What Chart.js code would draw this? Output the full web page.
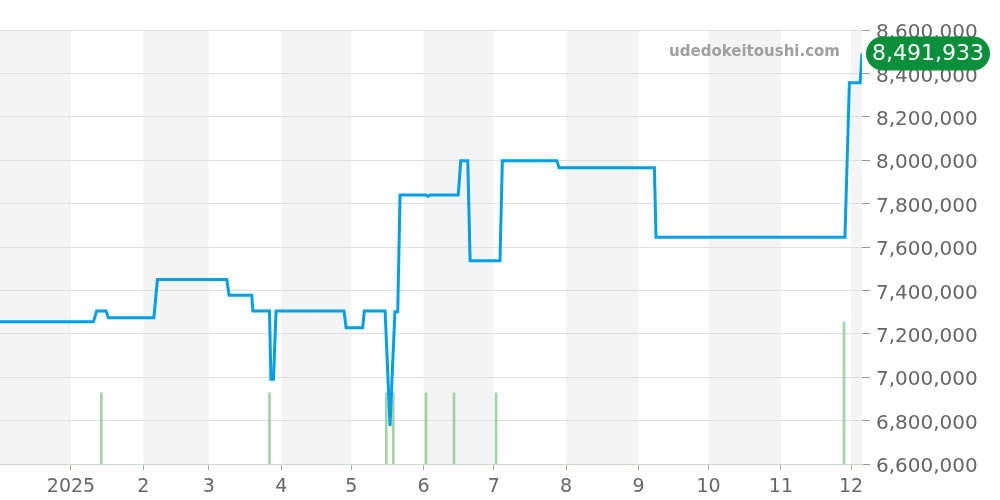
<!DOCTYPE html>
<html>
<head>
<meta charset="utf-8">
<script src="https://cdn.jsdelivr.net/npm/chart.js@4/dist/chart.umd.min.js"></script>
<style>
  html, body { margin: 0; padding: 0; background: #fff; }
  #wrap { width: 1000px; height: 500px; }
</style>
</head>
<body>
<div id="wrap"><canvas id="c" width="1000" height="500"></canvas></div>
<script>
// ---- data (x = days since 2025-01-01) ----
const priceDays = [-30.4, 9.6, 11.0, 15.0, 16.0, 35.5, 37.0, 66.7, 67.7, 77.4, 77.9, 85.0, 85.6, 86.7, 87.8, 116.9, 117.8, 124.9, 125.6, 134.5, 136.6, 138.7, 139.9, 140.9, 152.0, 152.9, 153.7, 165.8, 166.9, 169.9, 170.9, 183.7, 184.7, 208.0, 209.0, 249.8, 250.5, 331.4, 333.3, 337.9, 338.7];
const priceValues = [7255000, 7255000, 7305000, 7305000, 7274000, 7274000, 7450000, 7450000, 7378000, 7378000, 7305000, 7305000, 6990000, 6990000, 7305000, 7305000, 7228000, 7228000, 7305000, 7305000, 6775000, 7302000, 7302000, 7840000, 7840000, 7833000, 7840000, 7840000, 7998000, 7998000, 7537000, 7537000, 7998000, 7998000, 7965000, 7965000, 7645000, 7645000, 8357000, 8357000, 8491933];
const volumeDays = [13, 85, 135, 138, 152, 164, 182, 331];
const volumeValues = [1, 1, 1, 1, 1, 1, 1, 2];
const monthStarts = [0, 31, 59, 90, 120, 151, 181, 212, 243, 273, 304, 334];
const monthLabels = ['2025', '2', '3', '4', '5', '6', '7', '8', '9', '10', '11', '12'];
const shadedMonths = [[-31, 0], [31, 59], [90, 120], [151, 181], [212, 243], [273, 304], [334, 365]];
const yTicks = [6600000, 6800000, 7000000, 7200000, 7400000, 7600000, 7800000, 8000000, 8200000, 8400000, 8600000];
const latestPrice = 8491933;
const siteName = 'udedokeitoushi.com';

const FONT = "'DejaVu Sans', sans-serif";

const bandsPlugin = {
  id: 'bands',
  beforeDraw(chart) {
    const { ctx, chartArea: a, scales: { x } } = chart;
    ctx.save();
    ctx.beginPath();
    ctx.rect(a.left, a.top, a.right - a.left, a.bottom - a.top);
    ctx.clip();
    ctx.fillStyle = '#f4f4f4';
    shadedMonths.forEach(([s, e]) => {
      const x0 = x.getPixelForValue(s), x1 = x.getPixelForValue(e);
      ctx.fillRect(x0, a.top, x1 - x0, a.bottom - a.top);
    });
    ctx.restore();
  }
};

const overlayPlugin = {
  id: 'overlay',
  afterDraw(chart) {
    const { ctx, chartArea: a, scales: { y } } = chart;
    ctx.save();
    // watermark
    ctx.font = "bold 15px " + FONT;
    ctx.fillStyle = '#a0a0a0';
    ctx.textAlign = 'right';
    ctx.textBaseline = 'middle';
    ctx.fillText(siteName, a.right - 22, 52);
    // latest price badge
    const py = y.getPixelForValue(latestPrice);
    const bx = a.right + 4, bw = 124, bh = 34, r = 17;
    ctx.fillStyle = '#0b8f3a';
    ctx.beginPath();
    ctx.roundRect(bx, py - bh / 2, bw, bh, r);
    ctx.fill();
    ctx.fillStyle = '#ffffff';
    ctx.font = "22px " + FONT;
    ctx.textAlign = 'center';
    ctx.fillText(latestPrice.toLocaleString('en-US'), bx + bw / 2, py + 1);
    ctx.restore();
  }
};

new Chart(document.getElementById('c'), {
  type: 'bar',
  data: {
    datasets: [
      {
        type: 'line',
        data: priceDays.map((d, i) => ({ x: d, y: priceValues[i] })),
        borderColor: '#00a0e9',
        borderWidth: 3,
        pointRadius: 0,
        tension: 0,
        fill: false,
        yAxisID: 'y',
        order: 0
      },
      {
        type: 'bar',
        data: volumeDays.map((d, i) => ({ x: d, y: volumeValues[i] })),
        backgroundColor: 'rgba(129,199,132,0.75)',
        barThickness: 2,
        yAxisID: 'y2',
        order: 1
      }
    ]
  },
  options: {
    responsive: false,
    animation: false,
    layout: { padding: { top: 30, left: 0, right: 0, bottom: 0 } },
    plugins: { legend: { display: false }, tooltip: { enabled: false } },
    scales: {
      x: {
        type: 'linear',
        min: -30.4,
        max: 338.7,
        offset: false,
        afterBuildTicks(scale) { scale.ticks = monthStarts.map(v => ({ value: v })); },
        afterFit(scale) { scale.height = 36; },
        ticks: {
          autoSkip: false,
          maxRotation: 0,
          padding: 6,
          color: '#666',
          font: { family: FONT, size: 19 },
          callback(v) { const i = monthStarts.indexOf(v); return i >= 0 ? monthLabels[i] : ''; }
        },
        grid: { drawOnChartArea: false, drawTicks: true, tickLength: 6, color: '#aaa', offset: false },
        border: { display: true, color: '#c5e4c5', dash: [2, 1] }
      },
      y: {
        position: 'right',
        min: 6600000,
        max: 8600000,
        afterBuildTicks(scale) { scale.ticks = yTicks.map(v => ({ value: v })); },
        afterFit(scale) { scale.width = 138; },
        ticks: {
          padding: 6,
          labelOffset: 3,
          color: '#666',
          font: { family: FONT, size: 20 },
          callback(v) { return Number(v).toLocaleString('en-US'); }
        },
        grid: { color: '#e0e0e0', tickLength: 8, tickColor: '#999' },
        border: { display: false }
      },
      y2: {
        display: false,
        min: 0,
        max: 6.1
      }
    }
  },
  plugins: [bandsPlugin, overlayPlugin]
});
</script>
</body>
</html>
